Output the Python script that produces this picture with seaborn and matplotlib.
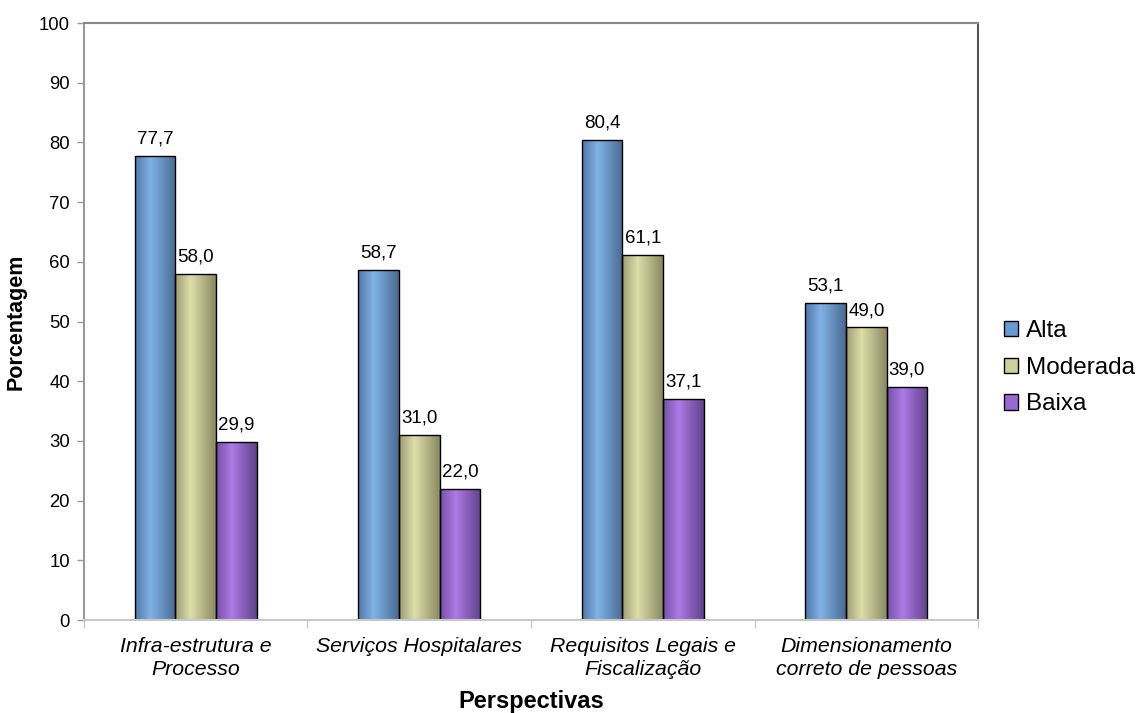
import numpy as np
import pandas as pd
import matplotlib
matplotlib.use("Agg")
import matplotlib.pyplot as plt
from matplotlib.colors import to_rgb
from matplotlib.patches import Patch
import seaborn as sns

categorias = ["Infra-estrutura e\nProcesso", "Serviços Hospitalares",
              "Requisitos Legais e\nFiscalização", "Dimensionamento\ncorreto de pessoas"]
niveis = ["Alta", "Moderada", "Baixa"]
alta = [77.7, 58.7, 80.4, 53.1]
moderada = [58.0, 31.0, 61.1, 49.0]
baixa = [29.9, 22.0, 37.1, 39.0]

# gradient stops per level: left edge, highlight, right edge
stops = {
    "Alta": ["#4f77a8", "#80b2e6", "#4a6a92"],
    "Moderada": ["#9c9c72", "#dedeaa", "#8a8a64"],
    "Baixa": ["#7550a8", "#b07ae6", "#60428a"],
}
mid_colors = {"Alta": "#6a9ad4", "Moderada": "#cfcf9a", "Baixa": "#9a68d2"}

df = pd.DataFrame({
    "Perspectivas": categorias * 3,
    "Nivel": [n for n in niveis for _ in categorias],
    "Porcentagem": alta + moderada + baixa,
})

sns.set_style("white")
plt.rcParams["font.family"] = ["Liberation Sans", "DejaVu Sans"]
plt.rcParams["text.color"] = "black"
plt.rcParams["axes.labelcolor"] = "black"
plt.rcParams["xtick.labelcolor"] = "black"
plt.rcParams["ytick.labelcolor"] = "black"

fig = plt.figure(figsize=(11.36, 7.13), dpi=100)
ax = fig.add_axes([0.0739, 0.1304, 0.7871, 0.8373])

sns.barplot(data=df, x="Perspectivas", y="Porcentagem", hue="Nivel",
            hue_order=niveis, palette=mid_colors, width=0.546,
            edgecolor="black", linewidth=1.0, legend=False, ax=ax)


def gradient_row(cols, n=64):
    pts = np.array([0.0, 0.38, 1.0])
    rgb = np.array([to_rgb(c) for c in cols])
    t = np.linspace(0, 1, n)
    return np.stack([np.interp(t, pts, rgb[:, k]) for k in range(3)], axis=-1)[None, :, :]


for nivel, cont in zip(niveis, ax.containers):
    grad = gradient_row(stops[nivel])
    for bar in cont:
        x, w, h = bar.get_x(), bar.get_width(), bar.get_height()
        im = ax.imshow(grad, extent=[x, x + w, 0, h], aspect="auto",
                       origin="lower", zorder=bar.get_zorder(), interpolation="bilinear")
        im.set_clip_path(bar)
        bar.set_facecolor("none")
        bar.set_zorder(bar.get_zorder() + 0.1)
    labels = [f"{v:.1f}".replace(".", ",") for v in cont.datavalues]
    ax.bar_label(cont, labels=labels, padding=6, fontsize=13.5, color="black")

ax.set_xlim(-0.5, 3.5)
ax.set_ylim(0, 100)
ax.set_yticks(range(0, 101, 10))
ax.tick_params(axis="y", which="major", length=5, width=1, color="#999999",
               labelsize=13.3, pad=5, left=True)
ax.set_xticks(range(4))
ax.set_xticklabels(categorias, fontsize=15.3, style="italic", linespacing=1.3)
ax.tick_params(axis="x", which="major", length=0, pad=12)
ax.set_xticks(np.arange(-0.5, 3.6, 1.0), minor=True)
ax.tick_params(axis="x", which="minor", length=6, width=1, color="#c8c8c8", bottom=True)

ax.set_xlabel("Perspectivas", fontsize=17, fontweight="bold", labelpad=8)
ax.set_ylabel("Porcentagem", fontsize=15.5, fontweight="bold", labelpad=9)

for side, col, lw in [("top", "#888888", 1.5), ("right", "#555555", 1.5),
                      ("bottom", "#c8c8c8", 1.5), ("left", "#999999", 1.5)]:
    ax.spines[side].set_visible(True)
    ax.spines[side].set_color(col)
    ax.spines[side].set_linewidth(lw)

handles = [Patch(facecolor=mid_colors[n], edgecolor="black", linewidth=1.0, label=n)
           for n in niveis]
fig.legend(handles=handles, loc="center left", bbox_to_anchor=(0.875, 0.484),
           frameon=False, fontsize=17.5, handlelength=0.6, handleheight=0.6,
           handletextpad=0.3, labelspacing=0.6, borderaxespad=0)

fig.savefig("out.png", dpi=100)
